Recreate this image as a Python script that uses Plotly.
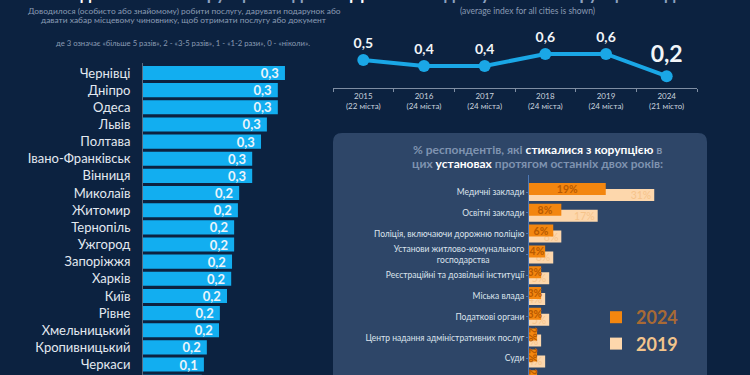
import plotly.graph_objects as go

W, H = 750, 375
BG = "#0c2240"
PANEL = "#2e4668"
FONT = "Lato, Roboto, 'Noto Sans', sans-serif"

# ---- left chart data ----
cities = ["Чернівці", "Дніпро", "Одеса", "Львів", "Полтава", "Івано-Франківськ", "Вінниця",
          "Миколаїв", "Житомир", "Тернопіль", "Ужгород", "Запоріжжя", "Харків", "Київ", "Рівне",
          "Хмельницький", "Кропивницький", "Черкаси", " "]
city_index = [0.338, 0.321, 0.321, 0.295, 0.281, 0.26, 0.26, 0.229, 0.226, 0.217, 0.217,
              0.212, 0.21, 0.2, 0.183, 0.181, 0.152, 0.145, 0.14]

# ---- line chart data ----
years = ["2015<br>(22 міста)", "2016<br>(24 міста)", "2017<br>(24 міста)",
         "2018<br>(24 міста)", "2019<br>(24 міста)", "2024<br>(21 місто)"]
avg_index = [0.5, 0.4, 0.4, 0.6, 0.6, 0.23]

# ---- institutions data ----
institutions = ["Медичні заклади", "Освітні заклади", "Поліція, включаючи дорожню поліцію",
                "Установи житлово-комунального<br>господарства" + "\u00a0" * 16,
                "Реєстраційні та дозвільні інституції", "Міська влада", "Податкові органи",
                "Центр надання адміністративних послуг", "Суди", ""]
pct_2024 = [19, 8, 6, 4, 3, 3, 3, 2, 2, 2]
pct_2019 = [31, 17, 8, 6, 5, 4, 5, 3, 4, 3]


def fmt(v):
    return f"{v:.1f}".replace(".", ",")


def px(x):
    return x / W


def py(y):
    return 1 - y / H


fig = go.Figure()

# left bars
fig.add_trace(go.Bar(
    x=city_index, y=cities, orientation="h", xaxis="x", yaxis="y",
    marker=dict(color="#12aef0", line=dict(width=0)), width=0.82,
    text=[fmt(v) + "\u00a0" for v in city_index], textposition="inside",
    insidetextanchor="end", constraintext="none",
    texttemplate="<b>%{text}</b>",
    textfont=dict(color="#eaf4fb", size=13, family=FONT),
    showlegend=False, hoverinfo="skip"))

# line chart
fig.add_trace(go.Scatter(
    x=years, y=avg_index, xaxis="x2", yaxis="y2", mode="lines+markers+text",
    line=dict(color="#1aa7e6", width=4), marker=dict(size=12, color="#1aa7e6"),
    text=[fmt(v) for v in avg_index], texttemplate="<b>%{text}</b>",
    textposition="top center", cliponaxis=False,
    textfont=dict(color="#f2f5f8", size=[14, 14, 14, 14, 14, 23], family=FONT),
    showlegend=False, hoverinfo="skip"))

# institutions bars
idx = list(range(len(institutions)))
fig.add_trace(go.Bar(
    x=pct_2019, y=[i + 0.144 for i in idx], orientation="h", xaxis="x3", yaxis="y3",
    width=0.577, marker=dict(color="#fdd7ac", line=dict(width=0)),
    name="<span style='color:#f2c48c'><b>2019</b></span>",
    text=[f"{v:.0f}%" for v in pct_2019], textposition="inside", insidetextanchor="end",
    constraintext="none", textfont=dict(color="#f6c38a", size=10.5, family=FONT),
    hoverinfo="skip"))
fig.add_trace(go.Bar(
    x=pct_2024, y=[i - 0.144 for i in idx], orientation="h", xaxis="x3", yaxis="y3",
    width=0.577, marker=dict(color="#f3860f", line=dict(width=0)),
    name="<span style='color:#a86a35'><b>2024</b></span>",
    text=[f"{v:.0f}%" for v in pct_2024], textposition="inside", insidetextanchor="middle",
    constraintext="none", texttemplate="<b>%{text}</b>",
    textfont=dict(color="#b85a00", size=10.5, family=FONT),
    hoverinfo="skip"))

# rounded panel
x0, y0, x1, y1 = px(333), py(133), px(707), py(390)
rx, ry = px(9), 9 / H
panel_path = (f"M{x0+rx},{y0} L{x1-rx},{y0} Q{x1},{y0} {x1},{y0-ry} L{x1},{y1} "
              f"L{x0},{y1} L{x0},{y0-ry} Q{x0},{y0} {x0+rx},{y0} Z")

GREY = "#8a9bb3"


def ann(x, y, text, size, color, **kw):
    d = dict(x=px(x), y=py(y), xref="paper", yref="paper", text=text,
             font=dict(size=size, color=color, family=FONT), showarrow=False,
             xanchor="center", yanchor="middle")
    d.update(kw)
    return d


annotations = [
    ann(191, -6.5, "<b>Індекс</b><span style='color:#8ea2c0'><b> частоти корупційних дій</b></span>", 17, "#ffffff"),
    ann(520, -6.5, "<b>Динаміка</b><span style='color:#8ea2c0'><b> індексу частоти корупційних дій</b></span>", 17, "#ffffff"),
    ann(184, 11, "Доводилося (особисто або знайомому) робити послугу, дарувати подарунок або", 8.4, GREY),
    ann(184, 20, "давати хабар місцевому чиновнику, щоб отримати послугу або документ", 8.4, GREY),
    ann(183, 43, "де 3 означає «більше 5 разів», 2 - «3-5 разів», 1 - «1-2 рази», 0 - «ніколи».", 7.7, GREY),
    ann(527, 11, "(average index for all cities is shown)", 8.5, GREY),
    ann(537, 149, "<b>% респондентів, які </b><span style='color:#ffffff'><b>стикалися з корупцією</b></span><b> в</b>",
        12, "#7f93b0"),
    ann(537, 163, "<b>цих </b><span style='color:#ffffff'><b>установах</b></span><b> протягом останніх двох років:</b>",
        12, "#7f93b0"),
]

fig.update_layout(
    width=W, height=H, autosize=False,
    margin=dict(l=0, r=0, t=0, b=0, pad=0),
    paper_bgcolor=BG, plot_bgcolor="rgba(0,0,0,0)",
    font=dict(family=FONT, color="#dce3ec"),
    barmode="overlay",
    shapes=[dict(type="path", path=panel_path, xref="paper", yref="paper",
                 fillcolor=PANEL, line=dict(width=0), layer="below")],
    annotations=annotations,
    xaxis=dict(domain=[px(143), px(353)], range=[0, 0.5], visible=False, fixedrange=True),
    yaxis=dict(domain=[0, py(63)], type="category", categoryarray=cities,
               range=[(375 - 73) / 17.15, (63 - 73) / 17.15],
               showline=True, linecolor="#5b6b80", linewidth=1, showgrid=False, zeroline=False,
               ticks="outside", ticklen=9, tickcolor="rgba(0,0,0,0)",
               tickfont=dict(size=13, color="#e3e9f0", family=FONT)),
    xaxis2=dict(domain=[px(333), px(697)], anchor="y2", type="category", range=[-0.5, 5.5],
                showline=True, linecolor="#7f8ea3", linewidth=1, showgrid=False,
                tickson="boundaries", ticks="outside", ticklen=3, tickcolor="#7f8ea3",
                tickfont=dict(size=8, color="#c9d2de", family=FONT)),
    yaxis2=dict(domain=[py(88), py(25)], anchor="x2", range=[0.0333, 1.083], visible=False),
    xaxis3=dict(domain=[px(529), px(690.6)], anchor="y3", range=[0, 40], visible=False),
    yaxis3=dict(domain=[0, py(175)], anchor="x3", range=[(375 - 192) / 20.8, (175 - 192) / 20.8],
                tickvals=idx[:9], ticktext=institutions[:9], showgrid=False, zeroline=False,
                showline=True, linecolor="#4d78b5", linewidth=1,
                ticks="outside", ticklen=2, tickcolor="#4d78b5",
                tickfont=dict(size=8.5, color="#dce3ec", family=FONT)),
    legend=dict(x=px(596), y=py(299), xanchor="left", yanchor="top", traceorder="reversed",
                itemwidth=30, bgcolor="rgba(0,0,0,0)", font=dict(size=18, family=FONT),
                itemclick=False),
)

fig.write_html("out.html", config={"displayModeBar": False},
               post_script="document.body.style.margin='0';document.body.style.background='#0c2240';")
